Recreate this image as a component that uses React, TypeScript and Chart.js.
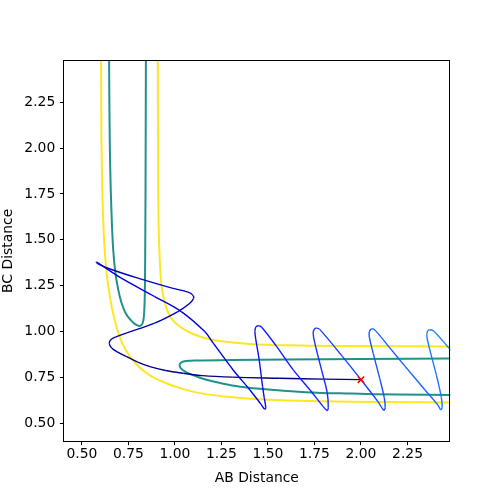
import React, { useEffect, useRef } from "react";
import { Chart, registerables } from "chart.js";

Chart.register(...registerables);

// Axis ticks and limits
const xTicks = [0.5, 0.75, 1.0, 1.25, 1.5, 1.75, 2.0, 2.25];
const yTicks = [0.5, 0.75, 1.0, 1.25, 1.5, 1.75, 2.0, 2.25];
const axisMin = 0.4;
const axisMax = 2.48;

// Contour lines [AB, BC]
const yellowOuter: [number, number][] = [
  [0.603, 2.52], [0.604, 2.2], [0.607, 1.9], [0.613, 1.65], [0.622, 1.45],
  [0.635, 1.3], [0.652, 1.18], [0.672, 1.08], [0.7, 0.98], [0.735, 0.9],
  [0.79, 0.825], [0.86, 0.765], [0.95, 0.72], [1.05, 0.685], [1.15, 0.662],
  [1.3, 0.643], [1.5, 0.628], [1.8, 0.62], [2.1, 0.616], [2.52, 0.614],
];
const yellowInner: [number, number][] = [
  [0.908, 2.52], [0.909, 2.0], [0.912, 1.6], [0.918, 1.4], [0.928, 1.25],
  [0.945, 1.16], [0.965, 1.1], [0.99, 1.06], [1.03, 1.025], [1.08, 0.995],
  [1.15, 0.968], [1.25, 0.948], [1.4, 0.933], [1.6, 0.925], [1.9, 0.921], [2.52, 0.919],
];
const tealLeft: [number, number][] = [
  [0.646, 2.52], [0.648, 2.2], [0.652, 1.9], [0.659, 1.65], [0.668, 1.45],
  [0.68, 1.32], [0.695, 1.23], [0.712, 1.16], [0.735, 1.1], [0.765, 1.06],
  [0.79, 1.038], [0.808, 1.031], [0.822, 1.038], [0.83, 1.06], [0.835, 1.11],
  [0.838, 1.2], [0.84, 1.4], [0.842, 1.8], [0.844, 2.52],
];
const tealRight: [number, number][] = [
  [2.52, 0.853], [2.0, 0.851], [1.6, 0.848], [1.3, 0.845], [1.12, 0.843],
  [1.06, 0.84], [1.035, 0.832], [1.025, 0.818], [1.032, 0.8], [1.055, 0.782],
  [1.1, 0.762], [1.16, 0.74], [1.25, 0.718], [1.35, 0.7], [1.5, 0.685],
  [1.7, 0.67], [1.95, 0.662], [2.2, 0.657], [2.52, 0.655],
];

// Trajectory [AB, BC]
const trajectory: [number, number][] = [
  [2.0, 0.738], [1.8, 0.741], [1.56, 0.746], [1.31, 0.752], [1.15, 0.76],
  [1.045, 0.773], [0.95, 0.788], [0.866, 0.809], [0.8, 0.834], [0.741, 0.863],
  [0.69, 0.89], [0.66, 0.911], [0.647, 0.935], [0.655, 0.955], [0.68, 0.97],
  [0.741, 0.993], [0.891, 1.046], [1.016, 1.109], [1.075, 1.15], [1.1, 1.18],
  [1.095, 1.2], [1.07, 1.215], [0.98, 1.238], [0.801, 1.291], [0.64, 1.345],
  [0.585, 1.37], [0.578, 1.378], [0.59, 1.372], [0.712, 1.291], [0.891, 1.191],
  [1.034, 1.109], [1.16, 1.0], [1.206, 0.937], [1.313, 0.791], [1.403, 0.682],
  [1.462, 0.605], [1.482, 0.578], [1.488, 0.585], [1.48, 0.64], [1.471, 0.7],
  [1.453, 0.845], [1.435, 0.955], [1.43, 1.0], [1.435, 1.025], [1.448, 1.032],
  [1.465, 1.025], [1.547, 0.918], [1.636, 0.791], [1.726, 0.682], [1.797, 0.591],
  [1.818, 0.57], [1.824, 0.585], [1.819, 0.664], [1.788, 0.791], [1.752, 0.937],
  [1.743, 0.991], [1.75, 1.015], [1.762, 1.019], [1.778, 1.012], [1.9, 0.865],
  [2.0, 0.738], [2.09, 0.62], [2.122, 0.572], [2.13, 0.585], [2.125, 0.64],
  [2.102, 0.74], [2.066, 0.88], [2.045, 0.97], [2.045, 1.0], [2.057, 1.014],
  [2.075, 1.008], [2.155, 0.911], [2.236, 0.812], [2.344, 0.682], [2.413, 0.6],
  [2.428, 0.575], [2.436, 0.585], [2.432, 0.64], [2.406, 0.76], [2.37, 0.9],
  [2.354, 0.975], [2.358, 1.003], [2.37, 1.01], [2.39, 1.003], [2.469, 0.915],
  [2.52, 0.86],
];
const startPoint: [number, number][] = [[2.0, 0.738]];

const toXY = (pts: [number, number][]) => pts.map(([x, y]) => ({ x, y }));

const colorStops: [number, number[]][] = [
  [0, [0, 0, 128]],
  [0.35, [0, 0, 225]],
  [0.5, [15, 20, 255]],
  [1, [30, 140, 255]],
];
function trajColor(t: number): string {
  for (let i = 0; i < colorStops.length - 1; i++) {
    const [t0, c0] = colorStops[i];
    const [t1, c1] = colorStops[i + 1];
    if (t <= t1) {
      const f = (t - t0) / (t1 - t0);
      const c = c0.map((v, k) => Math.round(v + (c1[k] - v) * f));
      return `rgb(${c[0]},${c[1]},${c[2]})`;
    }
  }
  const c = colorStops[colorStops.length - 1][1];
  return `rgb(${c[0]},${c[1]},${c[2]})`;
}

const FONT = "'DejaVu Sans', sans-serif";

const framePlugin = {
  id: "frame",
  afterDraw(chart: any) {
    const { ctx, chartArea } = chart;
    const l = Math.round(chartArea.left) + 0.5;
    const t = Math.round(chartArea.top) + 0.5;
    const r = Math.round(chartArea.right) - 0.5;
    const b = Math.round(chartArea.bottom) - 0.5;
    ctx.save();
    ctx.strokeStyle = "#000";
    ctx.lineWidth = 1;
    ctx.strokeRect(l, t, r - l, b - t);
    ctx.restore();
  },
};

export default function App() {
  const ref = useRef<HTMLCanvasElement | null>(null);
  useEffect(() => {
    if (!ref.current) return;
    const contour = (pts: [number, number][], color: string, order: number) => ({
      data: toXY(pts),
      showLine: true,
      borderColor: color,
      borderWidth: 2,
      pointRadius: 0,
      tension: 0.4,
      clip: 0,
      order,
    });
    const chart = new Chart(ref.current, {
      type: "scatter",
      data: {
        datasets: [
          {
            data: toXY(startPoint),
            showLine: false,
            pointStyle: "crossRot",
            pointRadius: 4.5,
            borderColor: "#ff0000",
            backgroundColor: "#ff0000",
            pointBorderWidth: 1.5,
            order: 0,
          } as any,
          {
            data: toXY(trajectory),
            showLine: true,
            borderWidth: 1.4,
            pointRadius: 0,
            tension: 0.35,
            clip: 0,
            order: 1,
            borderColor: "#0000ff",
            segment: {
              borderColor: (c: any) => trajColor(c.p0DataIndex / (trajectory.length - 1)),
            },
          } as any,
          contour(yellowOuter, "#fde725", 2),
          contour(yellowInner, "#fde725", 2),
          contour(tealLeft, "#21918c", 2),
          contour(tealRight, "#21918c", 2),
        ],
      },
      options: {
        animation: false,
        responsive: false,
        devicePixelRatio: 1,
        elements: { line: { capBezierPoints: false } },
        layout: { padding: { left: 0, top: 60, right: 49.7, bottom: 0 } },
        plugins: { legend: { display: false }, tooltip: { enabled: false } },
        scales: {
          x: {
            type: "linear",
            min: axisMin,
            max: axisMax,
            afterBuildTicks: (s: any) => {
              s.ticks = xTicks.map((v) => ({ value: v }));
            },
            afterFit: (s: any) => {
              s.height = 54.3;
            },
            grid: { drawOnChartArea: false, drawTicks: true, tickLength: 3.5, tickColor: "#000", tickWidth: 1 },
            border: { display: false },
            ticks: {
              color: "#000",
              font: { family: FONT, size: 13.9 },
              padding: 1,
              maxRotation: 0,
              autoSkip: false,
              callback: (v: any) => Number(v).toFixed(2),
            },
            title: {
              display: true,
              text: "AB Distance",
              color: "#000",
              font: { family: FONT, size: 13.9 },
              padding: { top: 0, bottom: 9 },
            },
          },
          y: {
            type: "linear",
            min: axisMin,
            max: axisMax,
            afterBuildTicks: (s: any) => {
              s.ticks = yTicks.map((v) => ({ value: v }));
            },
            afterFit: (s: any) => {
              s.width = 63.3;
            },
            grid: { drawOnChartArea: false, drawTicks: true, tickLength: 3.5, tickColor: "#000", tickWidth: 1 },
            border: { display: false },
            ticks: {
              color: "#000",
              font: { family: FONT, size: 13.9 },
              padding: 4.5,
              autoSkip: false,
              callback: (v: any) => Number(v).toFixed(2),
            },
            title: {
              display: true,
              text: "BC Distance",
              color: "#000",
              font: { family: FONT, size: 13.9 },
              padding: { top: 0, bottom: 0 },
            },
          },
        },
      },
      plugins: [framePlugin],
    } as any);
    return () => chart.destroy();
  }, []);
  return (
    <div style={{ position: "absolute", left: 0, top: 0, width: 500, height: 496, background: "#fff" }}>
      <canvas ref={ref} width={500} height={496} style={{ width: 500, height: 496, display: "block" }} />
    </div>
  );
}
